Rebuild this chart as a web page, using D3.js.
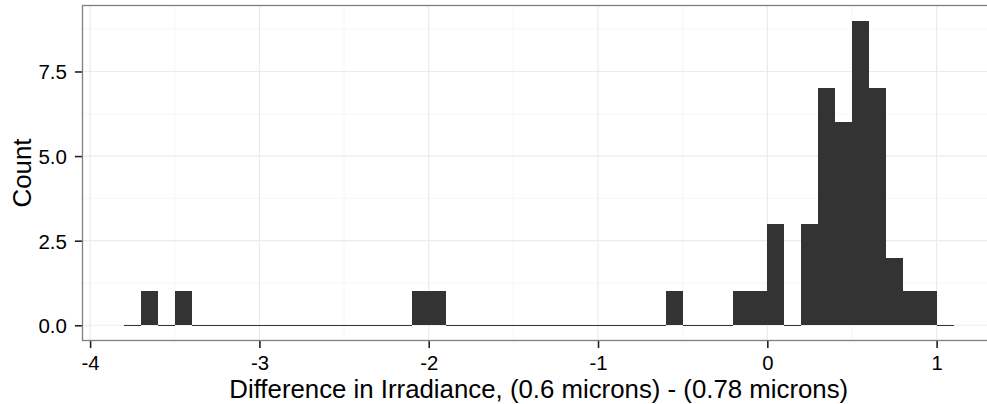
<!DOCTYPE html>
<html>
<head>
<meta charset="utf-8">
<script src="https://cdn.jsdelivr.net/npm/d3@7"></script>
<style>
  html, body { margin: 0; padding: 0; background: #fff; }
  svg { display: block; font-family: "Liberation Sans", Arial, sans-serif; }
</style>
</head>
<body>
<svg id="chart" width="987" height="404"></svg>
<script>
// Histogram bins (left edges, binwidth 0.1) and counts
const binStarts = [
  -3.8, -3.7, -3.6, -3.5, -3.4, -3.3, -3.2, -3.1, -3.0, -2.9,
  -2.8, -2.7, -2.6, -2.5, -2.4, -2.3, -2.2, -2.1, -2.0, -1.9,
  -1.8, -1.7, -1.6, -1.5, -1.4, -1.3, -1.2, -1.1, -1.0, -0.9,
  -0.8, -0.7, -0.6, -0.5, -0.4, -0.3, -0.2, -0.1, 0.0, 0.1,
  0.2, 0.3, 0.4, 0.5, 0.6, 0.7, 0.8, 0.9, 1.0
];
const counts = [
  0, 1, 0, 1, 0, 0, 0, 0, 0, 0,
  0, 0, 0, 0, 0, 0, 0, 1, 1, 0,
  0, 0, 0, 0, 0, 0, 0, 0, 0, 0,
  0, 0, 1, 0, 0, 0, 1, 1, 3, 0,
  3, 7, 6, 9, 7, 2, 1, 1, 0
];
const binWidth = 0.1;
const xTicks = [-4, -3, -2, -1, 0, 1];
const xMinorTicks = [-3.5, -2.5, -1.5, -0.5, 0.5];
const yTicks = [0, 2.5, 5, 7.5];
const yTickLabels = ["0.0", "2.5", "5.0", "7.5"];
const yMinorTicks = [1.25, 3.75, 6.25, 8.75];
const xTitle = "Difference in Irradiance, (0.6 microns) - (0.78 microns)";
const yTitle = "Count";

const svg = d3.select("#chart");
const FONT = "Liberation Sans, Arial, sans-serif";

// panel geometry
const panel = { left: 82.5, top: 5.5, bottom: 340.5 };
const xLo = binStarts[0], xHi = binStarts[binStarts.length - 1] + binWidth;
const xExp = (xHi - xLo) * 0.05;
const yMax = d3.max(counts);
const yExp = yMax * 0.05;
const pxPerUnit = 169.3;
panel.right = panel.left + (xHi - xLo + 2 * xExp) * pxPerUnit;

const x = d3.scaleLinear().domain([xLo - xExp, xHi + xExp]).range([panel.left, panel.right]);
const y = d3.scaleLinear().domain([-yExp, yMax + yExp]).range([panel.bottom, panel.top]);

const g = svg.append("g");

// minor grid
g.append("g").selectAll("line").data(xMinorTicks).join("line")
  .attr("x1", d => x(d)).attr("x2", d => x(d))
  .attr("y1", panel.top).attr("y2", panel.bottom)
  .attr("stroke", "#f8f8f8").attr("stroke-width", 1.2);
g.append("g").selectAll("line").data(yMinorTicks).join("line")
  .attr("x1", panel.left).attr("x2", panel.right)
  .attr("y1", d => y(d)).attr("y2", d => y(d))
  .attr("stroke", "#f8f8f8").attr("stroke-width", 1.2);
// major grid
g.append("g").selectAll("line").data(xTicks).join("line")
  .attr("x1", d => x(d)).attr("x2", d => x(d))
  .attr("y1", panel.top).attr("y2", panel.bottom)
  .attr("stroke", "#ebebeb").attr("stroke-width", 1.2);
g.append("g").selectAll("line").data(yTicks).join("line")
  .attr("x1", panel.left).attr("x2", panel.right)
  .attr("y1", d => y(d)).attr("y2", d => y(d))
  .attr("stroke", "#ebebeb").attr("stroke-width", 1.2);

// bars
const bins = binStarts.map((s, i) => ({ x0: s, x1: s + binWidth, n: counts[i] }));
g.append("g").selectAll("rect").data(bins).join("rect")
  .attr("x", d => x(d.x0))
  .attr("width", d => x(d.x1) - x(d.x0))
  .attr("y", d => d.n > 0 ? y(d.n) : y(0) - 0.6)
  .attr("height", d => d.n > 0 ? y(0) - y(d.n) : 1.2)
  .attr("fill", "#333333")
  .attr("shape-rendering", "crispEdges");

// panel border
g.append("rect")
  .attr("x", panel.left).attr("y", panel.top)
  .attr("width", panel.right - panel.left).attr("height", panel.bottom - panel.top)
  .attr("fill", "none").attr("stroke", "#7f7f7f").attr("stroke-width", 1.3);

// x axis
const xAxis = d3.axisBottom(x).tickValues(xTicks).tickSize(7).tickPadding(5)
  .tickFormat(d3.format("d"));
const xa = svg.append("g").attr("transform", `translate(0,${panel.bottom + 0.6})`).call(xAxis);
xa.select(".domain").remove();
xa.selectAll(".tick line").attr("stroke", "#222").attr("stroke-width", 1.6);
xa.selectAll(".tick text").attr("fill", "#000").attr("font-size", 20.3)
  .attr("font-family", FONT)
  .attr("y", 28.6).attr("dy", null)
  .text(d => d < 0 ? "-" + Math.abs(d) : String(d));

// y axis
const yAxis = d3.axisLeft(y).tickValues(yTicks).tickSize(7).tickPadding(4)
  .tickFormat((d, i) => yTickLabels[i]);
const ya = svg.append("g").attr("transform", `translate(${panel.left - 0.6},0)`).call(yAxis);
ya.select(".domain").remove();
ya.selectAll(".tick line").attr("stroke", "#222").attr("stroke-width", 1.6);
ya.selectAll(".tick text").attr("fill", "#000").attr("font-size", 20.5)
  .attr("font-family", FONT).attr("x", -15).attr("dy", "0.36em");

// titles
svg.append("text")
  .attr("x", (panel.left + panel.right) / 2).attr("y", 397.8)
  .attr("text-anchor", "middle").attr("font-size", 25.8).attr("fill", "#000")
  .attr("font-family", FONT)
  .text(xTitle);
svg.append("text")
  .attr("transform", `translate(30.5,${(panel.top + panel.bottom) / 2}) rotate(-90)`)
  .attr("text-anchor", "middle").attr("font-size", 25.8).attr("fill", "#000")
  .attr("font-family", FONT)
  .text(yTitle);
</script>
</body>
</html>
